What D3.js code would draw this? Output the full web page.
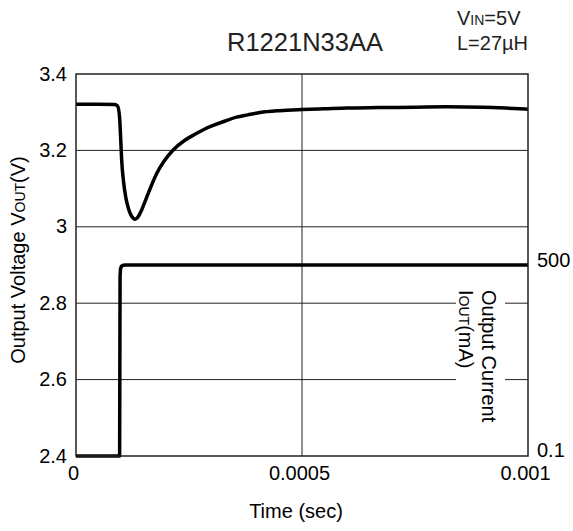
<!DOCTYPE html>
<html>
<head>
<meta charset="utf-8">
<script src="https://cdn.jsdelivr.net/npm/d3@7"></script>
<style>
  html, body { margin: 0; padding: 0; background: #fff; }
  svg { display: block; font-family: "Liberation Sans", Arial, Helvetica, sans-serif; }
</style>
</head>
<body>
<svg id="chart" width="573" height="531"></svg>
<script>
// ---- data ----
const timeV = [0, 0.00002, 0.00005, 0.000085, 0.000092, 0.0000965, 0.0000985, 0.000101, 0.000105, 0.000110,
  0.000116, 0.000122, 0.000127, 0.000131, 0.000136, 0.000142, 0.00015, 0.00016, 0.000178, 0.000195,
  0.000215, 0.00024, 0.00026, 0.000285, 0.000305, 0.00033, 0.000355, 0.00038, 0.000407, 0.00045,
  0.0005, 0.00055, 0.0006, 0.00067, 0.00075, 0.00082, 0.0009, 0.00095, 0.001];
const voltage = [3.321, 3.321, 3.321, 3.320, 3.316, 3.285, 3.24, 3.175, 3.12, 3.078,
  3.048, 3.030, 3.022, 3.020, 3.024, 3.036, 3.058, 3.088, 3.138, 3.172,
  3.201, 3.226, 3.240, 3.256, 3.266, 3.277, 3.287, 3.293, 3.299, 3.304,
  3.307, 3.309, 3.311, 3.312, 3.313, 3.314, 3.313, 3.311, 3.308];
const timeI = [0, 0.0000965, 0.0000975, 0.0000985, 0.0001005, 0.000104, 0.00011, 0.001];
const current = [0.1, 0.1, 470, 490, 497, 499.5, 500, 500];

const xTicks = [0, 0.0005, 0.001];
const xTickLabels = ["0", "0.0005", "0.001"];
const yTicks = [2.4, 2.6, 2.8, 3, 3.2, 3.4];
const yTickLabels = ["2.4", "2.6", "2.8", "3", "3.2", "3.4"];
const y2Ticks = [0.1, 500];
const y2TickLabels = ["0.1", "500"];

const title = "R1221N33AA";
const xTitle = "Time (sec)";

// ---- layout ----
const L = 76, R = 528, T = 74, B = 456;
const svg = d3.select("#chart");

const x = d3.scaleLinear().domain([0, 0.001]).range([L, R]);
const y = d3.scaleLinear().domain([2.4, 3.4]).range([B, T]);
const y2 = d3.scaleLinear().domain([0, 1000]).range([B, T]);

// gridlines
const grid = svg.append("g").attr("stroke", "#222").attr("stroke-width", 1);
grid.selectAll("line.h").data(yTicks.filter(d => d > 2.4 && d < 3.4)).join("line")
  .attr("x1", L).attr("x2", R).attr("y1", d => y(d)).attr("y2", d => y(d));
grid.selectAll("line.v").data(xTicks.filter(d => d > 0 && d < 0.001)).join("line")
  .attr("y1", T).attr("y2", B).attr("x1", d => x(d)).attr("x2", d => x(d));

// white box behind current label
svg.append("rect").attr("x", 456).attr("y", 286).attr("width", 49).attr("height", 142).attr("fill", "#fff");

// lines
const lineV = d3.line().x(d => x(d[0])).y(d => y(d[1])).curve(d3.curveMonotoneX);
svg.append("path").datum(timeV.map((t, i) => [t, voltage[i]]))
  .attr("d", lineV).attr("fill", "none").attr("stroke", "#000").attr("stroke-width", 3.5)
  .attr("stroke-linejoin", "round");

const lineI = d3.line().x(d => x(d[0])).y(d => y2(d[1]));
svg.append("path").datum(timeI.map((t, i) => [t, current[i]]))
  .attr("d", lineI).attr("fill", "none").attr("stroke", "#000").attr("stroke-width", 3.5)
  .attr("stroke-linejoin", "round");

// frame
svg.append("rect").attr("x", L).attr("y", T).attr("width", R - L).attr("height", B - T)
  .attr("fill", "none").attr("stroke", "#222").attr("stroke-width", 1.5);

// axes (labels only)
const fs = 20;
const yAxis = d3.axisLeft(y).tickValues(yTicks).tickFormat((d, i) => yTickLabels[i]).tickSize(0).tickPadding(9);
const gy = svg.append("g").attr("transform", `translate(${L},0)`).call(yAxis);
gy.select(".domain").remove();
gy.selectAll("text").attr("font-size", fs).attr("fill", "#000").attr("font-family", null).attr("dy", "0.3em");

const xAxis = d3.axisBottom(x).tickValues(xTicks).tickFormat((d, i) => xTickLabels[i]).tickSize(0).tickPadding(10);
const gx = svg.append("g").attr("transform", `translate(-3,${B})`).call(xAxis);
gx.select(".domain").remove();
gx.selectAll("text").attr("font-size", fs).attr("fill", "#000").attr("font-family", null);

const y2Axis = d3.axisRight(y2).tickValues(y2Ticks.map(v => v)).tickFormat((d, i) => y2TickLabels[i]).tickSize(0).tickPadding(9);
const gy2 = svg.append("g").attr("transform", `translate(${R},0)`).call(y2Axis);
gy2.select(".domain").remove();
gy2.selectAll("text").attr("font-size", fs).attr("fill", "#000").attr("font-family", null).attr("dy", "0.05em");

// titles
svg.append("text").attr("x", 227).attr("y", 51).attr("font-size", 25.5).attr("fill", "#222").text(title);

const vin = svg.append("text").attr("x", 457).attr("y", 25).attr("font-size", fs).attr("fill", "#222");
vin.append("tspan").text("V");
vin.append("tspan").attr("font-size", 14).text("IN");
vin.append("tspan").text("=5V");
svg.append("text").attr("x", 457).attr("y", 50).attr("font-size", fs).attr("fill", "#222").text("L=27\u00b5H");

svg.append("text").attr("x", 296).attr("y", 518).attr("text-anchor", "middle").attr("font-size", fs)
  .attr("fill", "#000").text(xTitle);

const yl = svg.append("text").attr("transform", "translate(25,260) rotate(-90)").attr("text-anchor", "middle")
  .attr("font-size", fs).attr("fill", "#000");
yl.append("tspan").text("Output Voltage V");
yl.append("tspan").attr("font-size", 14).text("OUT");
yl.append("tspan").text("(V)");

const cl = svg.append("text").attr("transform", "translate(482,290) rotate(90)").attr("font-size", fs).attr("fill", "#000");
cl.text("Output Current");
const cl2 = svg.append("text").attr("transform", "translate(459,290) rotate(90)").attr("font-size", fs).attr("fill", "#000");
cl2.append("tspan").text("I");
cl2.append("tspan").attr("font-size", 14).text("OUT");
cl2.append("tspan").text("(mA)");
</script>
</body>
</html>
